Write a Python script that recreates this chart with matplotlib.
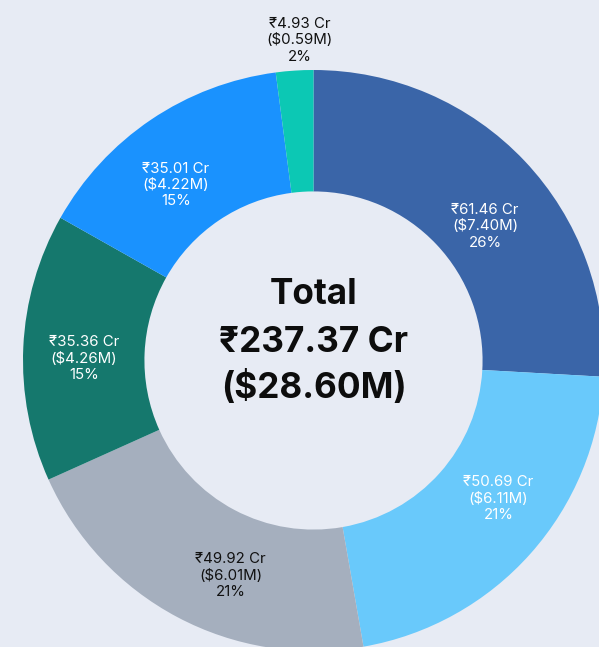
import numpy as np
import matplotlib
matplotlib.use("Agg")
import matplotlib.pyplot as plt

plt.rcParams['font.family'] = ['Inter', 'DejaVu Sans']

# ---- data ----
values_cr = [61.46, 50.69, 49.92, 35.36, 35.01, 4.93]
values_usd_m = [7.40, 6.11, 6.01, 4.26, 4.22, 0.59]
percent_labels = ["26%", "21%", "21%", "15%", "15%", "2%"]
total_cr = "₹237.37 Cr"
total_usd = "($28.60M)"

# ---- style / layout ----
colors = ["#3a65a8", "#69c9fb", "#a5afbe", "#15786d", "#1a92fe", "#0cc8b4"]
label_colors = ["white", "white", "#111111", "white", "white", "#111111"]
label_angle_nudge = [-5.3, 4.9, 6.9, 2.2, 4.1, -1.3]
label_radius = [0.75, 0.795, 0.794, 0.79, 0.768, 1.103]
bg = "#e7ebf4"

W, H = 599, 647
cx, cy, R = 313.5, 360.5, 290.5

fig = plt.figure(figsize=(W / 100, H / 100), dpi=100, facecolor=bg)
ax = fig.add_axes([0, 0, 1, 1])
ax.set_facecolor(bg)

wedges, _ = ax.pie(values_cr, colors=colors, startangle=90, counterclock=False,
                   radius=1.0, wedgeprops=dict(width=0.418, edgecolor='none'))

ax.set_aspect('auto')
ax.set_xlim(-cx / R, (W - cx) / R)
ax.set_ylim(-(H - cy) / R, cy / R)
ax.axis('off')

for i, w in enumerate(wedges):
    mid = 0.5 * (w.theta1 + w.theta2) + label_angle_nudge[i]
    r = label_radius[i]
    x = r * np.cos(np.deg2rad(mid))
    y = r * np.sin(np.deg2rad(mid))
    txt = f"₹{values_cr[i]:.2f} Cr\n(${values_usd_m[i]:.2f}M)\n{percent_labels[i]}"
    ax.text(x, y, txt, ha='center', va='center', fontsize=10.8,
            color=label_colors[i], linespacing=1.22)

# center text (baselines in data units)
def py(p):
    return (cy - p) / R

for line, base in [("Total", 304.3), (total_cr, 351.7), (total_usd, 398.3)]:
    ax.text(0, py(base), line, ha='center', va='baseline', fontsize=25.3,
            fontweight='bold', color='#0d0d0d')

fig.savefig("out.png", dpi=100, facecolor=bg)
